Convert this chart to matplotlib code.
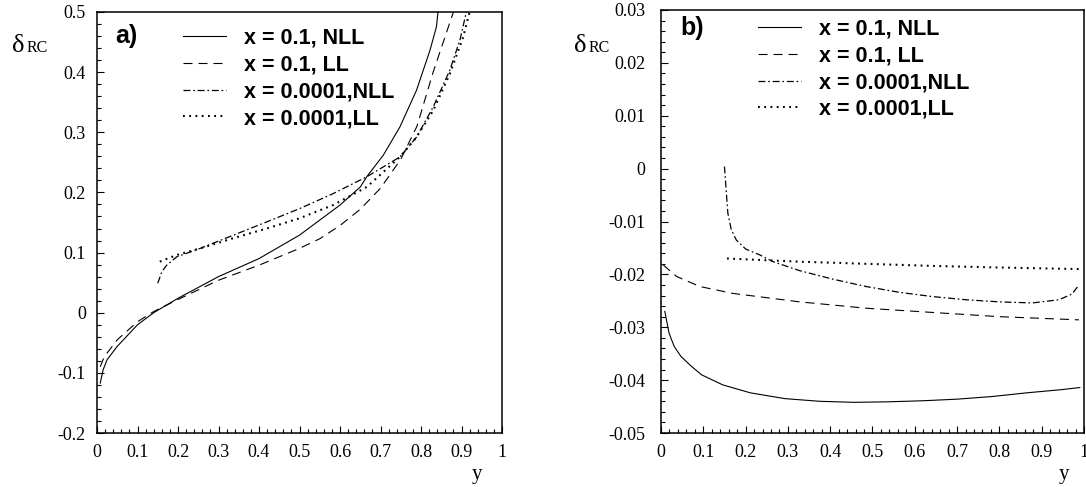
import matplotlib
matplotlib.use("Agg")
import matplotlib.pyplot as plt
from matplotlib.ticker import MultipleLocator, FuncFormatter

plt.rcParams['axes.unicode_minus'] = False
plt.rcParams['lines.scale_dashes'] = False

# panel a) : delta_RC vs y
a_nll01_y = [0.008, 0.015, 0.025, 0.05, 0.1, 0.14, 0.2, 0.3, 0.4, 0.5, 0.6, 0.65, 0.666, 0.707, 0.748, 0.789, 0.822, 0.838, 0.842]
a_nll01_d = [-0.117, -0.095, -0.078, -0.056, -0.02, 0.0, 0.024, 0.06, 0.09, 0.129, 0.179, 0.209, 0.226, 0.262, 0.309, 0.37, 0.436, 0.475, 0.5]
a_ll01_y = [0.008, 0.015, 0.025, 0.05, 0.1, 0.14, 0.2, 0.3, 0.4, 0.5, 0.55, 0.6, 0.65, 0.7, 0.75, 0.79, 0.83, 0.86, 0.88]
a_ll01_d = [-0.09, -0.078, -0.067, -0.045, -0.015, 0.002, 0.022, 0.054, 0.079, 0.107, 0.123, 0.145, 0.172, 0.207, 0.255, 0.31, 0.40, 0.46, 0.5]
a_nll4_y = [0.15, 0.16, 0.172, 0.197, 0.255, 0.337, 0.419, 0.5, 0.583, 0.666, 0.748, 0.789, 0.83, 0.871, 0.896, 0.912]
a_nll4_d = [0.049, 0.068, 0.079, 0.093, 0.107, 0.129, 0.151, 0.173, 0.198, 0.226, 0.259, 0.292, 0.342, 0.403, 0.453, 0.5]
a_ll4_y = [0.155, 0.197, 0.255, 0.337, 0.419, 0.5, 0.583, 0.666, 0.748, 0.789, 0.83, 0.871, 0.904, 0.92]
a_ll4_d = [0.085, 0.096, 0.107, 0.124, 0.14, 0.157, 0.179, 0.209, 0.259, 0.292, 0.336, 0.397, 0.458, 0.5]

# panel b)
b_nll01_y = [0.009, 0.019, 0.031, 0.047, 0.072, 0.096, 0.146, 0.211, 0.293, 0.374, 0.456, 0.538, 0.62, 0.7, 0.783, 0.865, 0.947, 0.99]
b_nll01_d = [-0.027, -0.0311, -0.0336, -0.0355, -0.0374, -0.039, -0.0409, -0.0424, -0.0435, -0.044, -0.0442, -0.0441, -0.0439, -0.0436, -0.0431, -0.0424, -0.0418, -0.0414]
b_ll01_y = [0.005, 0.037, 0.092, 0.17, 0.328, 0.485, 0.642, 0.8, 0.988]
b_ll01_d = [-0.0182, -0.0204, -0.0223, -0.0236, -0.0252, -0.0264, -0.0272, -0.028, -0.0286]
b_nll4_y = [0.15, 0.154, 0.158, 0.166, 0.178, 0.2, 0.233, 0.265, 0.328, 0.406, 0.485, 0.564, 0.642, 0.721, 0.8, 0.878, 0.941, 0.972, 0.988]
b_nll4_d = [0.0004, -0.004, -0.0084, -0.0115, -0.0135, -0.0152, -0.0163, -0.0176, -0.0193, -0.0209, -0.0223, -0.0234, -0.0242, -0.0248, -0.0252, -0.0254, -0.0248, -0.0237, -0.022]
b_ll4_y = [0.156, 0.328, 0.485, 0.642, 0.8, 0.988]
b_ll4_d = [-0.017, -0.0176, -0.018, -0.0184, -0.0187, -0.019]

labels = ["x = 0.1, NLL", "x = 0.1, LL", "x = 0.0001,NLL", "x = 0.0001,LL"]

styles = [
    dict(linestyle='-', lw=0.8),
    dict(linestyle=(0, (6.5, 4.3)), lw=0.8),
    dict(linestyle=(0, (5, 2.0, 1.2, 2.0)), lw=0.9),
    dict(linestyle=(0, (1.3, 3.2)), lw=1.5),
]

serif = 'Liberation Serif'
sans = 'Liberation Sans'

fig = plt.figure(figsize=(10.86, 4.87), dpi=100)
ax1 = fig.add_axes([97 / 1086, 54 / 487, 405 / 1086, 421 / 487])
ax2 = fig.add_axes([661 / 1086, 54 / 487, 423 / 1086, 423 / 487])


def fmt(v, pos):
    s = f"{round(v, 4):g}"
    return "0" if s in ("-0", "0") else s


def setup(ax, ylo, yhi, ymaj, ymin, ypad):
    ax.set_xlim(0, 1)
    ax.set_ylim(ylo, yhi)
    ax.xaxis.set_major_locator(MultipleLocator(0.1))
    ax.xaxis.set_minor_locator(MultipleLocator(0.02))
    ax.yaxis.set_major_locator(MultipleLocator(ymaj))
    ax.yaxis.set_minor_locator(MultipleLocator(ymin))
    ax.xaxis.set_major_formatter(FuncFormatter(fmt))
    ax.yaxis.set_major_formatter(FuncFormatter(fmt))
    ax.tick_params(which='both', direction='in', top=False, right=False, width=0.8)
    ax.tick_params(which='major', length=5)
    ax.tick_params(which='minor', length=2.7)
    ax.tick_params(axis='x', pad=8)
    ax.tick_params(axis='y', pad=ypad)
    for lab in ax.get_xticklabels() + ax.get_yticklabels():
        lab.set_family(serif)
        lab.set_fontsize(13)
    for sp in ax.spines.values():
        sp.set_linewidth(1.1)


setup(ax1, -0.2, 0.5, 0.1, 0.02, 8)
setup(ax2, -0.05, 0.03, 0.01, 0.002, 11)

for (xs, ds), st, lab in zip([(a_nll01_y, a_nll01_d), (a_ll01_y, a_ll01_d),
                              (a_nll4_y, a_nll4_d), (a_ll4_y, a_ll4_d)], styles, labels):
    ax1.plot(xs, ds, color='black', label=lab, **st)

for (xs, ds), st, lab in zip([(b_nll01_y, b_nll01_d), (b_ll01_y, b_ll01_d),
                              (b_nll4_y, b_nll4_d), (b_ll4_y, b_ll4_d)], styles, labels):
    ax2.plot(xs, ds, color='black', label=lab, **st)

leg_kw = dict(frameon=False, loc='upper left', borderpad=0, borderaxespad=0,
              handlelength=2.0, handletextpad=0.85, labelspacing=0.27,
              prop=dict(family=sans, weight='bold', size=15.5))
ax1.legend(bbox_to_anchor=(0.212, 0.963), **leg_kw)
ax2.legend(bbox_to_anchor=(0.229, 0.98), **leg_kw)

ax1.text(0.045, 0.943, "a)", transform=ax1.transAxes, family=sans, weight='bold',
         fontsize=18, va='center', ha='left')
ax2.text(0.045, 0.957, "b)", transform=ax2.transAxes, family=sans, weight='bold',
         fontsize=18, va='center', ha='left')

# delta_RC axis titles and y labels
for x0 in (12, 574):
    fig.text(x0 / 1086, 1 - 52 / 487, "δ", family=serif, fontsize=19, va='baseline')
    fig.text((x0 + 15) / 1086, 1 - 52 / 487, "RC", family=serif, fontsize=11.5, va='baseline')
for xc in (477, 1064):
    fig.text(xc / 1086, 1 - 475 / 487, "y", family=serif, fontsize=15, va='center', ha='center')

fig.savefig("out.png", dpi=100, facecolor='white')
